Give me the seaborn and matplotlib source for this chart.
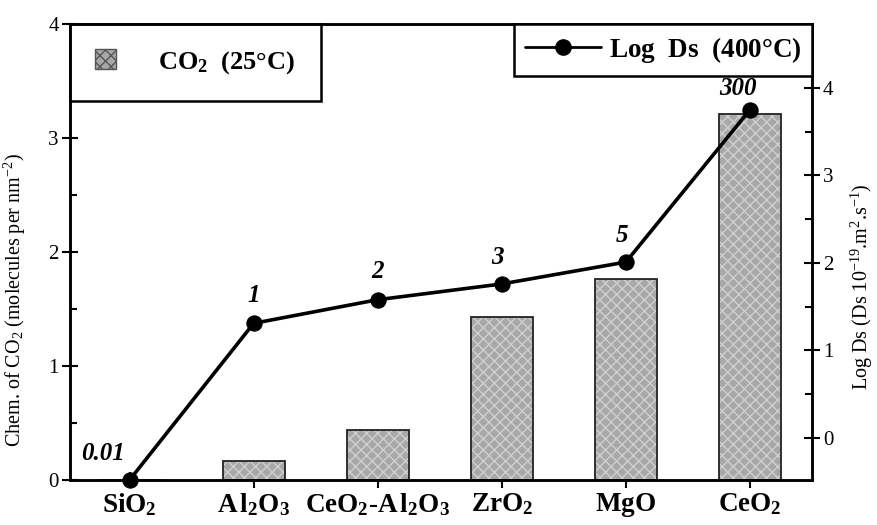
import matplotlib
matplotlib.use("Agg")
import matplotlib.pyplot as plt
import seaborn as sns
import numpy as np
import pandas as pd
from matplotlib.patches import Patch
from matplotlib.lines import Line2D
from matplotlib.ticker import MultipleLocator

# ---- data ----
categories = [r"$\mathbf{SiO_2}$", r"$\mathbf{A\,l_2O_3}$", r"$\mathbf{CeO_2\text{-}A\,l_2O_3}$",
              r"$\mathbf{ZrO_2}$", r"$\mathbf{MgO}$", r"$\mathbf{CeO_2}$"]
co2_chem = [0.0, 0.17, 0.44, 1.43, 1.76, 3.21]
log_ds = [-0.48, 1.31, 1.58, 1.76, 2.01, 3.75]
ds_labels = ["0.01", "1", "2", "3", "5", "300"]
label_offsets = [(-19, 19), (0, 20), (0, 20), (-3, 19), (-3, 19), (-9, 15)]

sns.set_style("ticks")
plt.rcParams["font.family"] = ["Liberation Serif", "DejaVu Serif"]
plt.rcParams["mathtext.fontset"] = "custom"
plt.rcParams["mathtext.rm"] = "Liberation Serif"
plt.rcParams["mathtext.it"] = "Liberation Serif:italic"
plt.rcParams["mathtext.bf"] = "Liberation Serif:bold"
plt.rcParams["hatch.linewidth"] = 1.0
for k in ["text.color", "axes.labelcolor", "xtick.color", "ytick.color", "axes.edgecolor"]:
    plt.rcParams[k] = "black"

fig = plt.figure(figsize=(8.77, 5.25), dpi=100)
ax = fig.add_axes([70/877, 1-480/525, (812-70)/877, (480-24)/525])

df = pd.DataFrame({"cat": categories, "co2": co2_chem})
sns.barplot(data=df, x="cat", y="co2", color="#a8a8a8", width=0.5, ax=ax,
            saturation=1, edgecolor="#d0d0d0", linewidth=0)
for p in ax.patches:
    p.set_hatch("xxx")
sns.barplot(data=df, x="cat", y="co2", fill=False, width=0.5, ax=ax,
            edgecolor="#222222", linewidth=1.3)

ax.set_xlim(-0.48, 5.5)
ax.set_ylim(0, 4)
ax.set_xlabel("")
ax.set_ylabel(r"Chem. of CO$_2$ (molecules per nm$^{-2}$)", fontsize=14.5)
ax.yaxis.set_label_coords(-0.057, 0.395)
ax.yaxis.set_major_locator(MultipleLocator(1))
ax.yaxis.set_minor_locator(MultipleLocator(0.5))
ax.tick_params(axis="y", which="major", direction="inout", length=12, width=1.5, labelsize=15, pad=2)
ax.tick_params(axis="y", which="minor", direction="in", length=5, width=1.5)
ax.tick_params(axis="x", which="major", direction="inout", length=12, width=1.5, labelsize=19.5, pad=2)
for s in ax.spines.values():
    s.set_linewidth(1.8)
    s.set_color("black")
    s.set_visible(True)

ax2 = ax.twinx()
x_pos = np.arange(len(categories))
sns.lineplot(x=x_pos, y=log_ds, ax=ax2, color="black", linewidth=2.6,
             marker="o", markersize=11, markeredgecolor="black", legend=False)
for ln in ax2.lines:
    ln.set_clip_on(False)
ax2.set_ylim(-0.48, 4.73)
ax2.set_xlim(-0.48, 5.5)
ax2.yaxis.set_major_locator(MultipleLocator(1))
ax2.yaxis.set_minor_locator(MultipleLocator(0.5))
ax2.tick_params(axis="y", which="major", direction="inout", length=12, width=1.5, labelsize=15, pad=2)
ax2.tick_params(axis="y", which="minor", direction="in", length=5, width=1.5)
ax2.set_ylabel(r"Log Ds (Ds 10$^{-19}$.m$^2$.s$^{-1}$)", fontsize=14.5)
ax2.yaxis.set_label_coords(1.050, 0.423)
for s in ax2.spines.values():
    s.set_linewidth(1.8)
    s.set_color("black")

for xi, yi, lab, off in zip(x_pos, log_ds, ds_labels, label_offsets):
    ax2.annotate(lab, (xi, yi), xytext=off, textcoords="offset points",
                 ha="center", va="center", fontsize=18, fontweight="bold",
                 fontstyle="italic", clip_on=False)

bar_handle = Patch(facecolor="#a8a8a8", edgecolor="#555555", hatch="xxx", linewidth=1)
leg1 = ax.legend([bar_handle], [r"$\mathbf{CO_2}$  $\mathbf{(25\degree C)}$"],
                 loc="upper left", bbox_to_anchor=(0, 1), borderaxespad=0,
                 fancybox=False, edgecolor="black", framealpha=1, fontsize=19,
                 borderpad=0.95, handlelength=0.8, handleheight=0.8, handletextpad=1.6)
leg1.get_frame().set_linewidth(1.8)

line_handle = Line2D([], [], color="black", linewidth=2, marker="o", markersize=11)
leg2 = ax2.legend([line_handle], [r"$\mathbf{Log}$  $\mathbf{Ds}$  $\mathbf{(400\degree C)}$"],
                  loc="upper right", bbox_to_anchor=(1, 1), borderaxespad=0,
                  fancybox=False, edgecolor="black", framealpha=1, fontsize=19.5,
                  borderpad=0.4, handlelength=2.8, handletextpad=0.3)
leg2.get_frame().set_linewidth(1.8)

fig.savefig("out.png", dpi=100)
